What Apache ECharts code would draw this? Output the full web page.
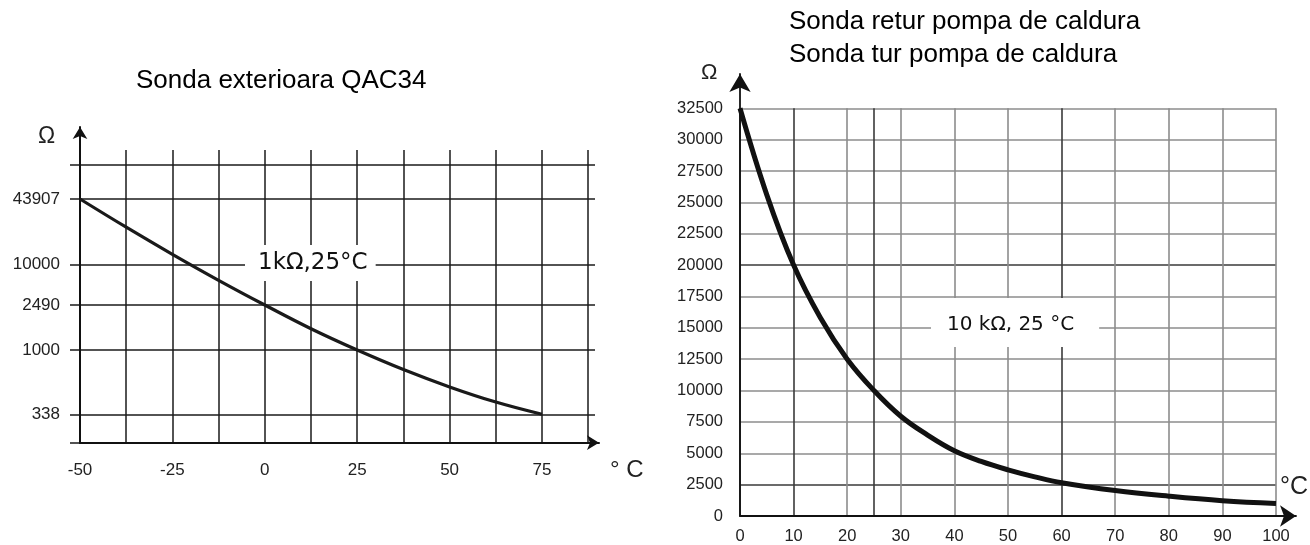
<!DOCTYPE html>
<html>
<head>
<meta charset="utf-8">
<script src="https://cdn.jsdelivr.net/npm/echarts@6/dist/echarts.min.js"></script>
<style>html,body{margin:0;padding:0;background:#fff}#c{width:1310px;height:545px}</style>
</head>
<body>
<div id="c"></div>
<script>
// ---------- Left chart: Sonda exterioara QAC34 ----------
const leftTempC = [-50, -37.5, -25, -12.5, 0, 12.5, 25, 37.5, 50, 62.5, 75];
const leftOhm   = [43907, 29260, 15190, 7050, 2490, 1705, 1000, 799, 620, 464, 338];
const leftTempLabels = [-50, -25, 0, 25, 50, 75];
const leftTempGrid = [-50, -37.5, -25, -12.5, 0, 12.5, 25, 37.5, 50, 62.5, 75, 87.5];
const leftOhmLabels = [338, 1000, 2490, 10000, 43907];

// ---------- Right chart: Sonda retur / tur pompa de caldura ----------
const rightTempC = [0, 5, 10, 15, 20, 25, 30, 35, 40, 45, 50, 55, 60, 70, 80, 90, 100];
const rightOhm   = [32500, 25600, 20000, 15800, 12500, 10000, 7950, 6450, 5200, 4350, 3680, 3120, 2650, 2030, 1580, 1220, 1000];
const rightTempGrid = [0, 10, 20, 25, 30, 40, 50, 60, 70, 80, 90, 100];

// ---------- texts ----------
const leftTitle = 'Sonda exterioara QAC34';
const rightTitle = 'Sonda retur pompa de caldura\nSonda tur pompa de caldura';
const leftNote = '1kΩ,25°C';
const rightNote = '10 kΩ, 25 °C';
const ohmName = 'Ω';
const leftDeg = '° C';
const rightDeg = '°C';

// ---------- left Ω axis: the drawing is not to scale; each labelled
// resistance sits on its own gridline (axis units, 0 = bottom) ----------
const leftAxisOhm = [0, 338, 1000, 2490, 10000, 43907];
const leftAxisPos = [0, 28.4, 92.7, 137.7, 178.4, 243.7];
const leftAxisTopLine = 277.7;
const leftAxisMax = 292.7;
const leftTempMin = -50, leftTempMax = 89.34;

function ohmToPos(r) {
  for (let i = 1; i < leftAxisOhm.length; i++) {
    if (r <= leftAxisOhm[i] || i === leftAxisOhm.length - 1) {
      const a = leftAxisOhm[i - 1], b = leftAxisOhm[i];
      return leftAxisPos[i - 1] + (r - a) / (b - a) * (leftAxisPos[i] - leftAxisPos[i - 1]);
    }
  }
}

const FONT = 'Liberation Sans';
const darkGrid = { color: '#1a1a1a', width: 1.5 };
const G = '#8c8c8c', D = '#3a3a3a';

const chart = echarts.init(document.getElementById('c'), null, { renderer: 'canvas' });

const hiddenAxis = {
  axisLabel: { show: false }, axisTick: { show: false }, splitLine: { show: false }
};

const option = {
  animation: false,
  backgroundColor: '#fff',
  title: [
    { text: leftTitle, left: 136, top: 68, padding: 0,
      textStyle: { fontFamily: FONT, fontSize: 26, fontWeight: 'normal', color: '#000', lineHeight: 26 } },
    { text: rightTitle, left: 789, top: 5, padding: 0,
      textStyle: { fontFamily: FONT, fontSize: 26, fontWeight: 'normal', color: '#000', lineHeight: 33 } },
    { text: leftNote, left: 245, top: 245, padding: [5, 8, 5, 13], backgroundColor: '#fff',
      textStyle: { fontFamily: 'DejaVu Sans', fontSize: 23, fontWeight: 'normal', color: '#111', lineHeight: 26 } },
    { text: rightNote, left: 931, top: 298, padding: [15, 25, 10, 16], backgroundColor: '#fff',
      textStyle: { fontFamily: 'DejaVu Sans', fontSize: 20, fontWeight: 'normal', color: '#111', lineHeight: 24 } },
    { text: ohmName, left: 38, top: 125, padding: 0,
      textStyle: { fontFamily: FONT, fontSize: 23, fontWeight: 'normal', color: '#222', lineHeight: 23 } },
    { text: ohmName, left: 701, top: 62, padding: 0,
      textStyle: { fontFamily: FONT, fontSize: 22, fontWeight: 'normal', color: '#222', lineHeight: 22 } },
    { text: leftDeg, left: 610, top: 458, padding: 0,
      textStyle: { fontFamily: FONT, fontSize: 24, fontWeight: 'normal', color: '#222', lineHeight: 24 } },
    { text: rightDeg, left: 1280, top: 475, padding: 0,
      textStyle: { fontFamily: FONT, fontSize: 25, fontWeight: 'normal', color: '#222', lineHeight: 25 } }
  ],
  grid: [
    { left: 80, top: 150, width: 515, height: 292.7, containLabel: false, outerBoundsMode: 'none' },
    { left: 80, top: 127, width: 519, height: 315.7, containLabel: false, outerBoundsMode: 'none' },
    { left: 740, top: 108.3, width: 536, height: 407.7, containLabel: false, outerBoundsMode: 'none' },
    { left: 740, top: 74, width: 556, height: 442, containLabel: false, outerBoundsMode: 'none' }
  ],
  xAxis: [
    { gridIndex: 0, type: 'value', min: leftTempMin, max: leftTempMax,
      axisLine: { show: false },
      axisTick: { show: false, customValues: leftTempGrid },
      axisLabel: { customValues: leftTempLabels, margin: 19, fontFamily: FONT, fontSize: 17, color: '#222' },
      splitLine: { show: true, lineStyle: darkGrid } },
    Object.assign({ gridIndex: 1, type: 'value', min: 0, max: 1, z: 3,
      axisLine: { show: true, onZero: false, symbol: ['none', 'arrow'], symbolSize: [11, 12],
        lineStyle: { color: '#111', width: 2 } } }, hiddenAxis),
    { gridIndex: 2, type: 'value', min: 0, max: 100, interval: 10,
      axisLine: { show: false },
      axisTick: { show: false, customValues: rightTempGrid },
      axisLabel: { margin: 12, fontFamily: FONT, fontSize: 16.5, color: '#222' },
      splitLine: { show: true, lineStyle: { width: 1.6, color: [D, D, G, D, G, G, G, D, G, G, G, G] } } },
    Object.assign({ gridIndex: 3, type: 'value', min: 0, max: 1, z: 3,
      axisLine: { show: true, onZero: false, symbol: ['none', 'arrow'], symbolSize: [16, 16],
        lineStyle: { color: '#111', width: 1.8 } } }, hiddenAxis)
  ],
  yAxis: [
    { gridIndex: 0, type: 'value', min: 0, max: leftAxisMax,
      axisLine: { show: true, onZero: false, lineStyle: { color: '#111', width: 2 } },
      axisTick: { show: true, inside: false, length: 10, lineStyle: darkGrid,
        customValues: [0].concat(leftOhmLabels.map(ohmToPos), [leftAxisTopLine]) },
      axisLabel: { customValues: leftOhmLabels.map(ohmToPos), margin: 20, fontFamily: FONT, fontSize: 17, color: '#222',
        formatter: v => { const i = leftAxisPos.findIndex(p => Math.abs(p - v) < 1e-6); return i > 0 ? String(leftAxisOhm[i]) : ''; } },
      splitLine: { show: true, lineStyle: darkGrid } },
    Object.assign({ gridIndex: 1, type: 'value', min: 0, max: 1, z: 3,
      axisLine: { show: true, onZero: false, symbol: ['none', 'arrow'], symbolSize: [11, 12],
        lineStyle: { color: '#111', width: 2 } } }, hiddenAxis),
    { gridIndex: 2, type: 'value', min: 0, max: 32500, interval: 2500,
      axisLine: { show: false }, axisTick: { show: false },
      axisLabel: { margin: 17, fontFamily: FONT, fontSize: 16.5, color: '#222', formatter: v => String(v) },
      splitLine: { show: true, lineStyle: { width: 1.6, color: [D, D, G, G, G, G, G, G, D, G, G, G, G, G] } } },
    Object.assign({ gridIndex: 3, type: 'value', min: 0, max: 1, z: 3,
      axisLine: { show: true, onZero: false, symbol: ['none', 'arrow'], symbolSize: [16, 18],
        lineStyle: { color: '#111', width: 1.8 } } }, hiddenAxis)
  ],
  series: [
    { type: 'line', xAxisIndex: 0, yAxisIndex: 0, smooth: 0.4, showSymbol: false, symbol: 'none',
      lineStyle: { color: '#1a1a1a', width: 3.2 },
      data: leftTempC.map((t, i) => [t, ohmToPos(leftOhm[i])]) },
    { type: 'line', xAxisIndex: 2, yAxisIndex: 2, smooth: 0.4, showSymbol: false, symbol: 'none',
      lineStyle: { color: '#111', width: 5 },
      data: rightTempC.map((t, i) => [t, rightOhm[i]]) }
  ]
};
chart.setOption(option);
</script>
</body>
</html>
